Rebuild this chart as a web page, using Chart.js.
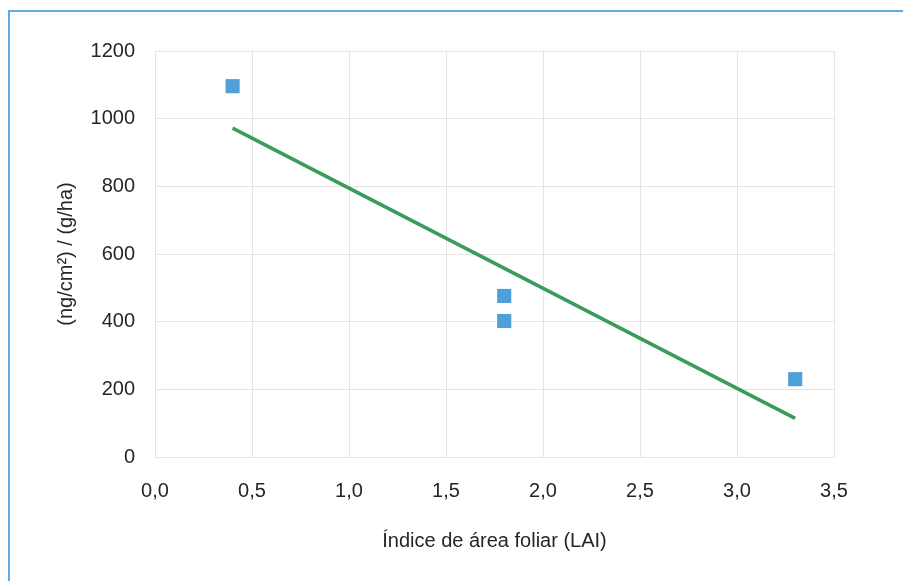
<!DOCTYPE html>
<html>
<head>
<meta charset="utf-8">
<script src="https://cdn.jsdelivr.net/npm/chart.js@4"></script>
<style>
  html, body { margin: 0; padding: 0; background: #fff; }
  #wrap { position: relative; width: 903px; height: 581px; }
  #frame {
    position: absolute; left: 8px; top: 10px; right: 0; bottom: 0;
    border-left: 2px solid #5dade2; border-top: 2px solid #5dade2;
  }
  canvas { position: absolute; left: 0; top: 0; }
</style>
</head>
<body>
<div id="wrap">
  <div id="frame"></div>
  <canvas id="scatterChart" width="903" height="581"></canvas>
</div>
<script>
// measured points
const lai = [0.4, 1.8, 1.8, 3.3];
const deposition = [1096, 476, 402, 230];
// trend line ends
const trendX = [0.4, 3.3];
const trendY = [972, 114];

const textColor = '#262626';
const font = { family: 'Liberation Sans, Arial, sans-serif', size: 20 };

const ctx = document.getElementById('scatterChart').getContext('2d');
new Chart(ctx, {
  type: 'scatter',
  data: {
    datasets: [
      {
        label: 'Tendencia',
        type: 'line',
        data: trendX.map((x, i) => ({ x: x, y: trendY[i] })),
        borderColor: '#3a9b5d',
        borderWidth: 3.5,
        pointRadius: 0,
        fill: false,
      },
      {
        label: 'Datos',
        data: lai.map((x, i) => ({ x: x, y: deposition[i] })),
        pointStyle: 'rect',
        pointRadius: 10,
        backgroundColor: '#4f9fd8',
        borderColor: '#4f9fd8',
        borderWidth: 0,
      },
    ],
  },
  options: {
    responsive: false,
    animation: false,
    layout: { padding: { left: 50, top: 51, right: 69, bottom: 24 } },
    plugins: {
      legend: { display: false },
      tooltip: { enabled: false },
    },
    scales: {
      x: {
        type: 'linear',
        min: 0,
        max: 3.5,
        ticks: {
          stepSize: 0.5,
          padding: 22,
          color: textColor,
          font: font,
          callback: (v) => v.toFixed(1).replace('.', ','),
        },
        grid: { color: '#e4e4e4', drawTicks: false },
        border: { color: '#e4e4e4' },
        title: {
          display: true,
          text: 'Índice de área foliar (LAI)',
          color: textColor,
          font: font,
        },
        afterFit: (scale) => { scale.height = 100; },
      },
      y: {
        min: 0,
        max: 1200,
        ticks: {
          stepSize: 200,
          padding: 20,
          color: textColor,
          font: font,
          callback: (v) => String(v),
        },
        grid: { color: '#e4e4e4', drawTicks: false },
        border: { color: '#e4e4e4' },
        title: {
          display: true,
          text: '(ng/cm²) / (g/ha)',
          color: textColor,
          font: font,
        },
        afterFit: (scale) => { scale.width = 105; },
      },
    },
  },
});
</script>
</body>
</html>
